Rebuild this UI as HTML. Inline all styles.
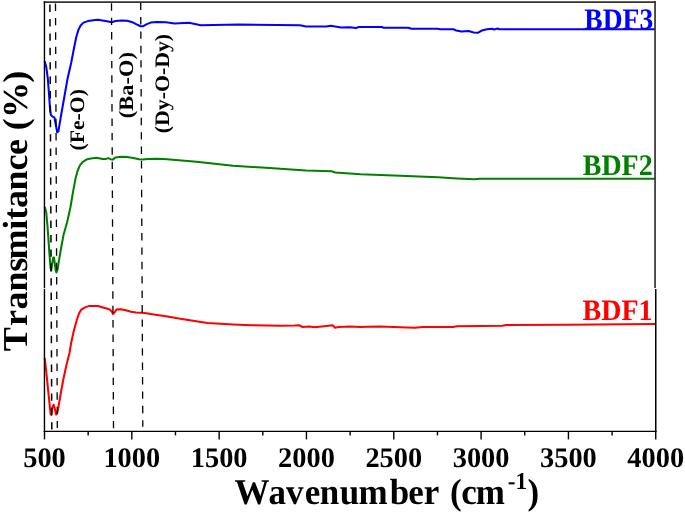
<!DOCTYPE html>
<html><head><meta charset="utf-8"><title>FTIR</title>
<style>
html,body{margin:0;padding:0;background:#fff;}
svg{display:block;will-change:transform;font-family:"Liberation Serif",serif;font-weight:bold;font-kerning:none;text-rendering:geometricPrecision;}
</style></head><body>
<svg width="685" height="513" viewBox="0 0 685 513">
<rect width="685" height="513" fill="#fff"/>
<g fill="none" stroke-width="2.05" stroke-linejoin="round" stroke-linecap="butt">
<path d="M44.7,61.2 L46.2,66.7 L47.8,78.4 L49.0,94.0 L50.1,109.6 L50.9,115.1 L52.5,116.6 L54.4,117.4 L55.6,123.6 L57.2,132.2 L58.4,131.4 L60.7,117.4 L64.0,98.7 L67.6,78.4 L71.2,62.8 L73.3,51.8 L76.2,37.2 L78.4,29.9 L80.6,25.5 L83.5,22.6 L87.9,21.1 L95.2,20.1 L98.1,19.7 L102.5,20.4 L108.3,21.6 L111.5,22.3 L115.6,21.1 L121.5,20.4 L127.3,20.8 L133.2,22.6 L137.5,24.8 L140.5,26.2 L143.4,26.2 L146.3,24.4 L150.7,22.6 L156.5,21.9 L166.0,22.3 L174.6,23.4 L189.0,22.8 L200.9,25.2 L238.8,24.6 L300.0,25.2 L306.0,26.4 L326.4,26.6 L330.8,25.8 L341.0,27.5 L350.0,27.3 L355.8,28.1 L358.8,27.0 L382.0,27.0 L383.6,27.8 L408.4,27.8 L411.3,28.7 L437.6,28.7 L440.5,29.3 L453.3,29.3 L456.3,30.5 L461.5,31.6 L468.6,31.1 L473.7,32.4 L477.8,32.8 L481.9,30.5 L487.0,29.3 L492.0,28.7 L494.0,29.5 L497.8,28.5 L499.3,29.3 L580.0,29.3 L655.0,29.3" stroke="#0000ff"/>
<path d="M44.7,206.7 L46.2,212.2 L47.5,226.2 L48.6,241.8 L49.7,257.4 L50.6,268.3 L51.2,270.7 L52.2,263.6 L53.3,257.4 L54.0,257.4 L54.8,263.6 L55.6,269.9 L56.4,272.5 L57.5,269.9 L58.7,262.1 L61.1,248.0 L63.4,235.6 L67.3,221.5 L70.4,207.5 L73.3,190.3 L75.5,178.6 L77.7,170.5 L79.9,165.4 L82.8,161.8 L86.4,159.6 L90.8,158.6 L96.7,157.8 L102.5,158.9 L106.1,158.9 L108.3,158.1 L110.5,159.2 L112.7,159.6 L115.6,157.4 L121.5,156.7 L127.3,157.0 L133.2,158.1 L139.0,159.3 L142.6,159.6 L147.8,158.9 L156.5,158.7 L163.8,159.0 L196.5,161.8 L233.0,165.8 L269.5,168.0 L306.0,170.5 L331.5,171.3 L335.2,172.4 L360.7,174.2 L400.0,175.8 L438.0,177.3 L457.0,178.5 L474.0,179.2 L479.7,178.8 L525.0,178.8 L655.0,178.8" stroke="#008000"/>
<path d="M44.7,357.9 L46.2,371.2 L47.8,386.8 L49.4,402.4 L50.6,414.1 L51.2,414.9 L52.5,407.1 L53.7,404.7 L54.8,408.6 L56.1,414.6 L57.2,413.3 L58.7,405.5 L61.1,391.5 L63.4,379.0 L66.5,365.0 L69.6,352.5 L71.1,343.2 L74.0,330.0 L76.9,319.8 L79.1,313.2 L81.3,309.6 L85.0,307.4 L89.4,305.9 L98.1,305.9 L104.0,307.8 L109.8,309.6 L112.0,311.8 L113.0,314.0 L114.5,312.5 L116.4,309.6 L120.7,309.2 L125.9,310.3 L131.0,311.8 L136.1,312.5 L144.8,313.0 L153.6,314.4 L166.0,316.2 L181.9,319.0 L207.4,323.0 L233.0,324.5 L251.2,325.2 L280.0,325.7 L294.6,325.5 L299.0,325.2 L302.6,327.0 L309.2,326.4 L314.3,327.3 L326.7,325.9 L332.6,325.2 L335.2,327.8 L338.4,327.0 L350.0,326.5 L360.3,327.1 L367.6,326.7 L380.0,326.4 L400.0,327.3 L415.0,327.7 L422.8,326.9 L453.0,326.9 L457.0,326.2 L502.5,325.8 L506.3,325.0 L567.0,324.7 L655.0,323.9" stroke="#ff0000"/>
</g>
<g stroke="#000" stroke-width="1.2" stroke-dasharray="7.4 7" fill="none"><line x1="49.9" y1="4.6" x2="51.8" y2="429.4" stroke-width="1.5"/><line x1="55.5" y1="3.5" x2="57.3" y2="428.0" stroke-width="1.3"/><line x1="111.5" y1="3.3" x2="113.5" y2="428.2" stroke-width="1.3"/><line x1="140.7" y1="2.6" x2="142.8" y2="426.8" stroke-width="1.3"/></g>
<g stroke="#333" stroke-width="1.7" fill="none">
<line x1="43.7" y1="2.05" x2="656" y2="2.05"/>
<line x1="655.05" y1="1.2" x2="655.05" y2="288"/>
</g>
<g stroke="#000" stroke-width="1.4" fill="none">
<line x1="44.45" y1="1.2" x2="44.45" y2="288"/>
<line x1="44.45" y1="288.8" x2="44.45" y2="432"/>
<line x1="655.75" y1="288.9" x2="655.75" y2="432" stroke-width="1.5"/>
<line x1="43.75" y1="431.4" x2="656.5" y2="431.4"/>
<line x1="44.50" y1="431.4" x2="44.50" y2="439.4"/><line x1="88.16" y1="431.4" x2="88.16" y2="435.4"/><line x1="131.82" y1="431.4" x2="131.82" y2="439.4"/><line x1="175.48" y1="431.4" x2="175.48" y2="435.4"/><line x1="219.14" y1="431.4" x2="219.14" y2="439.4"/><line x1="262.80" y1="431.4" x2="262.80" y2="435.4"/><line x1="306.46" y1="431.4" x2="306.46" y2="439.4"/><line x1="350.12" y1="431.4" x2="350.12" y2="435.4"/><line x1="393.79" y1="431.4" x2="393.79" y2="439.4"/><line x1="437.45" y1="431.4" x2="437.45" y2="435.4"/><line x1="481.11" y1="431.4" x2="481.11" y2="439.4"/><line x1="524.77" y1="431.4" x2="524.77" y2="435.4"/><line x1="568.43" y1="431.4" x2="568.43" y2="439.4"/><line x1="612.09" y1="431.4" x2="612.09" y2="435.4"/><line x1="655.75" y1="431.4" x2="655.75" y2="439.4"/>
</g>
<g font-size="28.4px" fill="#000"><text x="44.50" y="466.9" text-anchor="middle">500</text><text x="131.82" y="466.9" text-anchor="middle">1000</text><text x="219.14" y="466.9" text-anchor="middle">1500</text><text x="306.46" y="466.9" text-anchor="middle">2000</text><text x="393.79" y="466.9" text-anchor="middle">2500</text><text x="481.11" y="466.9" text-anchor="middle">3000</text><text x="568.43" y="466.9" text-anchor="middle">3500</text><text x="655.75" y="466.9" text-anchor="middle">4000</text></g>
<g font-size="35px" fill="#000"><text transform="translate(0,504.2) scale(1,1.04)"><tspan x="234.53 268.55 285.90 304.74 319.81 339.78 358.55 389.69 408.34 423.79 439.33 450.06 461.22 475.70" y="0">Wavenumber (cm</tspan><tspan x="507.7" y="-14.3" font-size="23.2px">-1</tspan><tspan x="527.48" y="0">)</tspan></text></g>
<text transform="translate(26.5,352.0) rotate(-90) scale(1.03,1)" font-size="35.0px" fill="#000" x="0.69 25.20 41.24 58.70 77.89 89.91 118.80 128.38 139.79 156.86 176.34 191.17 206.71 215.32 227.10 261.47" y="0">Transmitance (%)</text>
<g font-size="20.6px" fill="#000">
<text transform="translate(84.4,150.6) rotate(-90) scale(1.055,1)">(Fe-O)</text>
<text transform="translate(132.7,118.2) rotate(-90) scale(1.09,1)">(Ba-O)</text>
<text transform="translate(168.5,133.3) rotate(-90) scale(1.06,1)">(Dy-O-Dy)</text>
</g>
<g font-size="28px">
<text transform="translate(584.3,28.6) scale(0.985,1.06)" fill="#0000ff">BDF3</text>
<text transform="translate(582.7,175.4) scale(1,1.06)" fill="#008000">BDF2</text>
<text transform="translate(582.5,320.4) scale(1,1.06)" fill="#ff0000">BDF1</text>
</g>
</svg>
</body></html>
